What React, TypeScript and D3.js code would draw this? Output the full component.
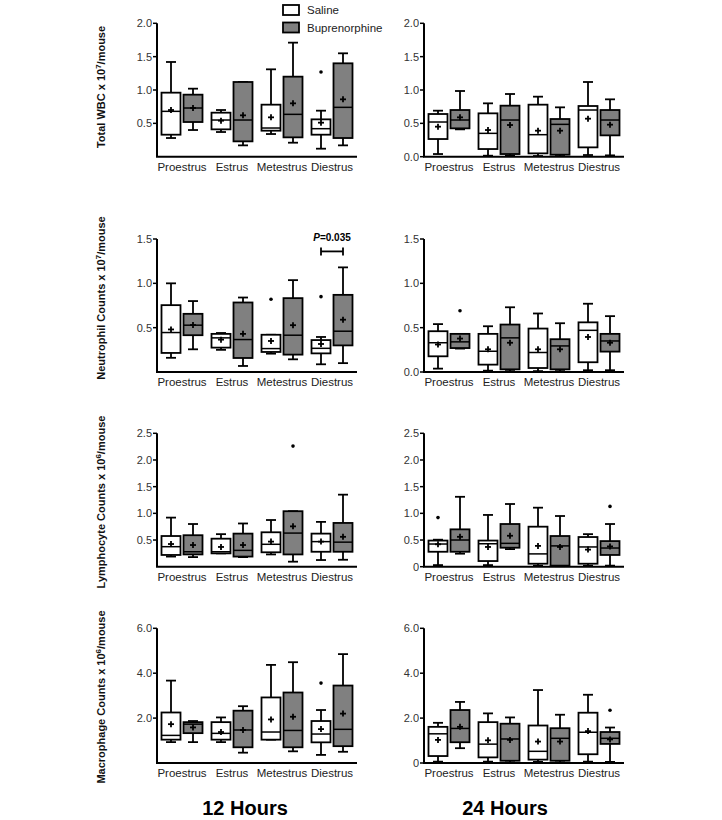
import React from 'react';
import * as d3 from 'd3';

// stages on the x axis
const stages = ['Proestrus', 'Estrus', 'Metestrus', 'Diestrus'];

// each entry: [min, q1, median, q3, max, mean]
const wbc12Saline = [[0.28, 0.33, 0.68, 0.96, 1.42, 0.70], [0.37, 0.41, 0.55, 0.66, 0.70, 0.54], [0.34, 0.39, 0.43, 0.78, 1.31, 0.59], [0.12, 0.33, 0.42, 0.56, 0.69, 0.51]];
const wbc12Bup = [[0.40, 0.52, 0.73, 0.93, 1.02, 0.73], [0.17, 0.23, 0.55, 1.12, 1.12, 0.62], [0.21, 0.29, 0.635, 1.20, 1.71, 0.80], [0.17, 0.28, 0.74, 1.40, 1.55, 0.86]];
const wbc24Saline = [[0.04, 0.265, 0.52, 0.64, 0.69, 0.45], [0.015, 0.115, 0.35, 0.65, 0.80, 0.40], [0.01, 0.05, 0.33, 0.78, 0.90, 0.39], [0.025, 0.14, 0.70, 0.76, 1.12, 0.57]];
const wbc24Bup = [[0.41, 0.425, 0.55, 0.70, 0.985, 0.59], [0.015, 0.04, 0.55, 0.765, 0.94, 0.475], [0.01, 0.03, 0.485, 0.565, 0.74, 0.39], [0.02, 0.32, 0.55, 0.70, 0.86, 0.48]];

const neut12Saline = [[0.16, 0.215, 0.445, 0.754, 1.00, 0.48], [0.25, 0.275, 0.385, 0.43, 0.44, 0.365], [0.207, 0.226, 0.264, 0.42, 0.42, 0.35], [0.087, 0.21, 0.267, 0.36, 0.395, 0.316]];
const neut12Bup = [[0.256, 0.415, 0.528, 0.656, 0.80, 0.53], [0.068, 0.158, 0.366, 0.784, 0.84, 0.43], [0.143, 0.196, 0.415, 0.833, 1.036, 0.528], [0.10, 0.30, 0.46, 0.87, 1.18, 0.59]];
const neut24Saline = [[0.038, 0.177, 0.33, 0.46, 0.54, 0.31], [0.015, 0.083, 0.234, 0.43, 0.516, 0.256], [0.01, 0.045, 0.22, 0.49, 0.66, 0.256], [0.02, 0.11, 0.47, 0.56, 0.77, 0.395]];
const neut24Bup = [[0.264, 0.27, 0.34, 0.43, 0.43, 0.377], [0.01, 0.03, 0.385, 0.535, 0.73, 0.33], [0.01, 0.03, 0.294, 0.37, 0.55, 0.256], [0.02, 0.23, 0.35, 0.43, 0.63, 0.33]];

const lymph12Saline = [[0.19, 0.22, 0.375, 0.575, 0.92, 0.425], [0.25, 0.25, 0.28, 0.525, 0.61, 0.37], [0.23, 0.27, 0.42, 0.645, 0.875, 0.47], [0.125, 0.28, 0.47, 0.62, 0.84, 0.47]];
const lymph12Bup = [[0.18, 0.23, 0.28, 0.59, 0.80, 0.406], [0.18, 0.19, 0.306, 0.62, 0.81, 0.406], [0.094, 0.23, 0.63, 1.04, 1.04, 0.756], [0.13, 0.28, 0.46, 0.82, 1.35, 0.56]];
const lymph24Saline = [[0.03, 0.28, 0.425, 0.49, 0.506, 0.42], [0.03, 0.106, 0.43, 0.49, 0.97, 0.37], [0.02, 0.056, 0.24, 0.75, 1.106, 0.39], [0.02, 0.056, 0.37, 0.556, 0.61, 0.32]];
const lymph24Bup = [[0.244, 0.28, 0.50, 0.70, 1.31, 0.56], [0.33, 0.356, 0.4375, 0.80, 1.175, 0.58], [0.01, 0.02, 0.39, 0.575, 0.95, 0.37], [0.02, 0.22, 0.35, 0.48, 0.80, 0.38]];

const mac12Saline = [[0.93, 1.04, 1.23, 2.25, 3.67, 1.73], [0.93, 1.04, 1.32, 1.82, 2.03, 1.38], [1.04, 1.04, 1.38, 2.92, 4.37, 1.94], [0.36, 0.92, 1.29, 1.87, 2.36, 1.51]];
const mac12Bup = [[0.93, 1.33, 1.73, 1.82, 1.87, 1.585], [0.46, 0.70, 1.47, 2.33, 2.53, 1.47], [0.52, 0.70, 1.45, 3.14, 4.49, 2.06], [0.50, 0.75, 1.50, 3.45, 4.85, 2.20]];
const mac24Saline = [[0.06, 0.31, 1.30, 1.61, 1.79, 1.03], [0.06, 0.25, 0.84, 1.82, 2.21, 1.01], [0.05, 0.15, 0.52, 1.67, 3.25, 0.955], [0.06, 0.39, 1.37, 2.24, 3.04, 1.42]];
const mac24Bup = [[0.66, 0.925, 1.54, 2.36, 2.72, 1.61], [0.03, 0.10, 1.07, 1.75, 2.03, 1.03], [0.03, 0.10, 1.10, 1.55, 2.15, 0.955], [0.05, 0.85, 1.10, 1.38, 1.58, 1.05]];

// outliers: [stage index, value]
const wbc12SalineOut = [[3, 1.27]];
const neut12SalineOut = [[2, 0.82], [3, 0.85]];
const neut24BupOut = [[0, 0.69]];
const lymph12BupOut = [[2, 2.26]];
const lymph24SalineOut = [[0, 0.92]];
const lymph24BupOut = [[3, 1.13]];
const mac12SalineOut = [[3, 3.56]];
const mac24BupOut = [[3, 2.35]];

// axis ticks
const ticksWbc = [0, 0.5, 1.0, 1.5, 2.0];
const ticksNeut = [0, 0.5, 1.0, 1.5];
const ticksLymph = [0, 0.5, 1.0, 1.5, 2.0, 2.5];
const ticksMac = [0, 2.0, 4.0, 6.0];

const FONT = '"Liberation Sans", Arial, Helvetica, sans-serif';
const GRAY = '#808080';

function BoxPanel({ x0, yTop, yBottom, max, ticks, zeroLabel, showZero, saline, bup, salineOut = [], bupOut = [], children }) {
    const x = d3.scaleBand().domain(stages).range([x0, x0 + 200]);
    const y = d3.scaleLinear().domain([0, max]).range([yBottom, yTop]);
    const bw = 19, off = 11, cap = 5;
    const fmt = (t) => (t === 0 ? zeroLabel : d3.format('.1f')(t));

    const drawBox = (s, i, fill, dir, key) => {
        const [mn, q1, md, q3, mx, mean] = s;
        const cx = x(stages[i]) + x.bandwidth() / 2 + dir * off;
        return (
            <g key={key} stroke="#000" strokeWidth={1.8}>
                <line x1={cx} x2={cx} y1={y(mx)} y2={y(q3)} />
                <line x1={cx} x2={cx} y1={y(q1)} y2={y(mn)} />
                <line x1={cx - cap} x2={cx + cap} y1={y(mx)} y2={y(mx)} />
                <line x1={cx - cap} x2={cx + cap} y1={y(mn)} y2={y(mn)} />
                <rect x={cx - bw / 2} y={y(q3)} width={bw} height={Math.max(0.5, y(q1) - y(q3))} fill={fill} />
                <line x1={cx - bw / 2} x2={cx + bw / 2} y1={y(md)} y2={y(md)} strokeWidth={1.5} />
                <line x1={cx - 3} x2={cx + 3} y1={y(mean)} y2={y(mean)} strokeWidth={1.8} />
                <line x1={cx} x2={cx} y1={y(mean) - 3} y2={y(mean) + 3} strokeWidth={1.8} />
            </g>
        );
    };
    const drawOut = (o, dir, key) => {
        const cx = x(stages[o[0]]) + x.bandwidth() / 2 + dir * off;
        return <circle key={key} cx={cx} cy={y(o[1])} r={1.8} fill="#000" />;
    };

    return (
        <g fontFamily={FONT}>
            {saline.map((s, i) => drawBox(s, i, '#fff', -1, 's' + i))}
            {bup.map((s, i) => drawBox(s, i, GRAY, 1, 'b' + i))}
            {salineOut.map((o, i) => drawOut(o, -1, 'so' + i))}
            {bupOut.map((o, i) => drawOut(o, 1, 'bo' + i))}
            <line x1={x0} x2={x0} y1={yTop} y2={yBottom} stroke="#000" strokeWidth={2} />
            <line x1={x0 - 1} x2={x0 + 200} y1={yBottom} y2={yBottom} stroke="#000" strokeWidth={2} />
            {ticks.filter(t => showZero || t !== 0).map(t => (
                <g key={t}>
                    <line x1={x0 - 4} x2={x0} y1={y(t)} y2={y(t)} stroke="#000" strokeWidth={1.5} />
                    <text x={x0 - 5} y={y(t)} dy="0.35em" textAnchor="end" fontSize={11} fill="#333">{fmt(t)}</text>
                </g>
            ))}
            {stages.map(s => (
                <text key={s} x={x(s) + x.bandwidth() / 2} y={yBottom + 14} textAnchor="middle" fontSize={11.5} fill="#222">{s}</text>
            ))}
            {children ? children(x, y) : null}
        </g>
    );
}

function YTitle({ cy, label, exp }) {
    return (
        <text transform={`translate(105,${cy}) rotate(-90)`} textAnchor="middle" fontFamily={FONT} fontWeight="bold" fontSize={11} fill="#111">
            {label} x 10<tspan dy={-4} fontSize={8}>{exp}</tspan><tspan dy={4}>/mouse</tspan>
        </text>
    );
}

export default function App() {
    const L = 157, R = 424;
    const rows = [
        { yTop: 23.3, yBottom: 156.7, titleY: 87, max: 2.0, ticks: ticksWbc, zero: '0.0', s12: wbc12Saline, b12: wbc12Bup, s24: wbc24Saline, b24: wbc24Bup, so12: wbc12SalineOut, bo12: [], so24: [], bo24: [], label: 'Total WBC', exp: '7' },
        { yTop: 239, yBottom: 372, titleY: 298, max: 1.5, ticks: ticksNeut, zero: '0.0', s12: neut12Saline, b12: neut12Bup, s24: neut24Saline, b24: neut24Bup, so12: neut12SalineOut, bo12: [], so24: [], bo24: neut24BupOut, label: 'Neutrophil Counts', exp: '7' },
        { yTop: 433.3, yBottom: 566.7, titleY: 502, max: 2.5, ticks: ticksLymph, zero: '0', s12: lymph12Saline, b12: lymph12Bup, s24: lymph24Saline, b24: lymph24Bup, so12: [], bo12: lymph12BupOut, so24: lymph24SalineOut, bo24: lymph24BupOut, label: 'Lymphocyte Counts', exp: '6' },
        { yTop: 628.3, yBottom: 763, titleY: 697, max: 6.0, ticks: ticksMac, zero: '0', s12: mac12Saline, b12: mac12Bup, s24: mac24Saline, b24: mac24Bup, so12: mac12SalineOut, bo12: [], so24: [], bo24: mac24BupOut, label: 'Macrophage Counts', exp: '6' }
    ];

    const pBracket = (x, y) => {
        const c = x('Diestrus') + x.bandwidth() / 2;
        const x1 = c - 11, x2 = c + 11, yy = y(1.36);
        return (
            <g>
                <line x1={x1} x2={x2} y1={yy} y2={yy} stroke="#000" strokeWidth={1.8} />
                <line x1={x1} x2={x1} y1={yy - 4} y2={yy + 4} stroke="#000" strokeWidth={1.8} />
                <line x1={x2} x2={x2} y1={yy - 4} y2={yy + 4} stroke="#000" strokeWidth={1.8} />
                <text x={c} y={yy - 10} textAnchor="middle" fontSize={10} fontWeight="bold"><tspan fontStyle="italic">P</tspan>=0.035</text>
            </g>
        );
    };

    return (
        <svg width={722} height={820} style={{ position: 'absolute', left: 0, top: 0, background: '#fff' }}>
            {rows.map((r, i) => (
                <g key={i}>
                    <YTitle cy={r.titleY} label={r.label} exp={r.exp} />
                    <BoxPanel x0={L} yTop={r.yTop} yBottom={r.yBottom} max={r.max} ticks={r.ticks} zeroLabel={r.zero} showZero={false}
                        saline={r.s12} bup={r.b12} salineOut={r.so12} bupOut={r.bo12}>
                        {i === 1 ? pBracket : null}
                    </BoxPanel>
                    <BoxPanel x0={R} yTop={r.yTop} yBottom={r.yBottom} max={r.max} ticks={r.ticks} zeroLabel={r.zero} showZero={true}
                        saline={r.s24} bup={r.b24} salineOut={r.so24} bupOut={r.bo24} />
                </g>
            ))}
            <g fontFamily={FONT} fontSize={11.5}>
                <rect x={283} y={5} width={16} height={10} fill="#fff" stroke="#000" strokeWidth={1.8} />
                <text x={307} y={10} dy="0.35em" fill="#222">Saline</text>
                <rect x={283} y={22.5} width={16} height={10} fill={GRAY} stroke="#000" strokeWidth={1.8} />
                <text x={307} y={27.5} dy="0.35em" fill="#222">Buprenorphine</text>
            </g>
            <text x={245} y={815} textAnchor="middle" fontFamily={FONT} fontWeight="bold" fontSize={20}>12 Hours</text>
            <text x={505} y={815} textAnchor="middle" fontFamily={FONT} fontWeight="bold" fontSize={20}>24 Hours</text>
        </svg>
    );
}
